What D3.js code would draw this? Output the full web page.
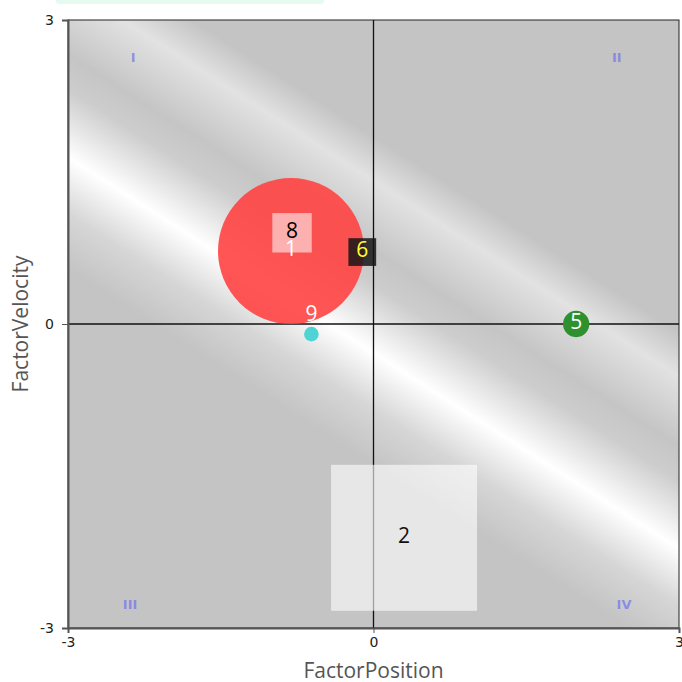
<!DOCTYPE html>
<html>
<head>
<meta charset="utf-8">
<script src="https://cdnjs.cloudflare.com/ajax/libs/d3/7.8.5/d3.min.js"></script>
<style>
  body { margin: 0; background: #fff; }
  svg { display: block; font-family: "Open Sans", "Noto Sans", sans-serif; }
</style>
</head>
<body>
<script>
// Bubble data
var ids = ["1", "8", "6", "9", "5", "2"];
var factorPosition = [-0.81, -0.80, -0.11, -0.61, 1.99, 0.30];
var factorVelocity = [0.72, 0.90, 0.71, -0.10, 0.00, -2.11];
var weights = [100, 27, 19, 10, 18, 100];
var shapes = ["circle", "square", "square", "circle", "circle", "square"];
var fills = ["#ff4343", "#ffffff", "#151515", "#4fd3d3", "#2e902e", "#ffffff"];
var fillOpacity = [0.9, 0.55, 0.85, 1, 1, 0.6];
var labelColors = ["#ffffff", "#000000", "#ffff33", "#ffffff", "#ffffff", "#111111"];

var axisTicks = [-3, 0, 3];
var quadrants = ["I", "II", "III", "IV"];
var quadrantPos = [[-2.36, 2.63], [2.39, 2.63], [-2.39, -2.77], [2.46, -2.77]];

var width = 682, height = 682;
var margin = {top: 20, right: 3, bottom: 54, left: 68};

var svg = d3.select("body").append("svg")
    .attr("width", width)
    .attr("height", height);

var x = d3.scaleLinear().domain([-3, 3]).range([margin.left, width - margin.right]);
var y = d3.scaleLinear().domain([-3, 3]).range([height - margin.bottom, margin.top]);
var size = d3.scaleLinear().domain([0, 100]).range([0, 146]);

// partly hidden box at the very top
svg.append("rect")
    .attr("x", 56).attr("y", -12)
    .attr("width", 268).attr("height", 16)
    .attr("rx", 3)
    .attr("fill", "#e6fbef");

// metallic background
var defs = svg.append("defs");
var grad = defs.append("linearGradient")
    .attr("id", "bg")
    .attr("gradientUnits", "userSpaceOnUse")
    .attr("x1", 187).attr("y1", -292)
    .attr("x2", -265).attr("y2", 414);
[[0, "#c4c4c4"], [0.31, "#c4c4c4"], [0.355, "#e2e2e2"], [0.425, "#c5c5c5"],
 [0.46, "#cdcdcd"], [0.528, "#ffffff"], [0.585, "#d6d6d6"], [0.64, "#c4c4c4"], [1, "#c4c4c4"]]
  .forEach(function(s) {
    grad.append("stop").attr("offset", s[0]).attr("stop-color", s[1]);
  });

svg.append("rect")
    .attr("x", x(-3)).attr("y", y(3))
    .attr("width", x(3) - x(-3)).attr("height", y(-3) - y(3))
    .attr("fill", "url(#bg)")
    .attr("stroke", "#222")
    .attr("stroke-width", 1);

// quadrant labels
svg.selectAll(".quad")
    .data(quadrants)
    .enter()
    .append("text")
    .attr("class", "quad")
    .attr("x", function(d, i) { return x(quadrantPos[i][0]); })
    .attr("y", function(d, i) { return y(quadrantPos[i][1]); })
    .attr("text-anchor", "middle")
    .attr("dominant-baseline", "central")
    .style("font-size", "13px")
    .style("font-weight", "bold")
    .style("font-family", "DejaVu Sans")
    .attr("fill", "#7070f0")
    .attr("fill-opacity", 0.7)
    .text(function(d) { return d; });

// cross lines through zero
svg.append("line")
    .attr("x1", x(0)).attr("x2", x(0))
    .attr("y1", y(3)).attr("y2", y(-3))
    .attr("stroke", "#111").attr("stroke-width", 1.3);
svg.append("line")
    .attr("x1", x(-3)).attr("x2", x(3))
    .attr("y1", y(0)).attr("y2", y(0))
    .attr("stroke", "#111").attr("stroke-width", 1.3);

// bubbles
var points = ids.map(function(id, i) {
  return {id: id, x: factorPosition[i], y: factorVelocity[i], w: weights[i], shape: shapes[i],
          fill: fills[i], op: fillOpacity[i], lc: labelColors[i]};
});

var marks = svg.selectAll(".mark")
    .data(points)
    .enter()
    .append("g")
    .attr("class", "mark")
    .attr("transform", function(d) { return "translate(" + x(d.x) + "," + y(d.y) + ")"; });

marks.filter(function(d) { return d.shape == "circle"; })
    .append("circle")
    .attr("r", function(d) { return size(d.w) / 2; })
    .attr("fill", function(d) { return d.fill; })
    .attr("fill-opacity", function(d) { return d.op; });

marks.filter(function(d) { return d.shape == "square"; })
    .append("rect")
    .attr("x", function(d) { return -size(d.w) / 2; })
    .attr("y", function(d) { return -size(d.w) / 2; })
    .attr("width", function(d) { return size(d.w); })
    .attr("height", function(d) { return size(d.w); })
    .attr("fill", function(d) { return d.fill; })
    .attr("fill-opacity", function(d) { return d.op; });

marks.append("text")
    .attr("text-anchor", "middle")
    .attr("dominant-baseline", "central")
    .attr("y", function(d) {
      var r = size(d.w) / 2;
      return r < 10 ? -r - 14 : -3;
    })
    .style("font-size", "21px")
    .attr("fill", function(d) { return d.lc; })
    .text(function(d) { return d.id; });

// axes
var xAxis = d3.axisBottom(x).tickValues(axisTicks).tickSize(5).tickPadding(4)
    .tickFormat(function(d) { return String(d); });
var yAxis = d3.axisLeft(y).tickValues(axisTicks).tickSize(6).tickPadding(8)
    .tickFormat(function(d) { return String(d); });

var gx = svg.append("g")
    .attr("transform", "translate(0," + y(-3) + ")")
    .call(xAxis);
var gy = svg.append("g")
    .attr("transform", "translate(" + x(-3) + ",0)")
    .call(yAxis);

[gx, gy].forEach(function(g) {
  g.select(".domain").attr("stroke", "#555").attr("stroke-width", 2);
  g.selectAll(".tick line").attr("stroke", "#555");
  g.selectAll(".tick text")
    .style("font-size", "14px")
    .style("font-family", "DejaVu Sans")
    .attr("fill", "#222");
});

// axis titles
svg.append("text")
    .attr("x", x(0))
    .attr("y", 670)
    .attr("text-anchor", "middle")
    .attr("dominant-baseline", "central")
    .style("font-size", "21px")
    .attr("fill", "#555")
    .text("FactorPosition");

svg.append("text")
    .attr("transform", "translate(20," + y(0) + ") rotate(-90)")
    .attr("text-anchor", "middle")
    .attr("dominant-baseline", "central")
    .style("font-size", "21px")
    .attr("fill", "#555")
    .text("FactorVelocity");
</script>
</body>
</html>
